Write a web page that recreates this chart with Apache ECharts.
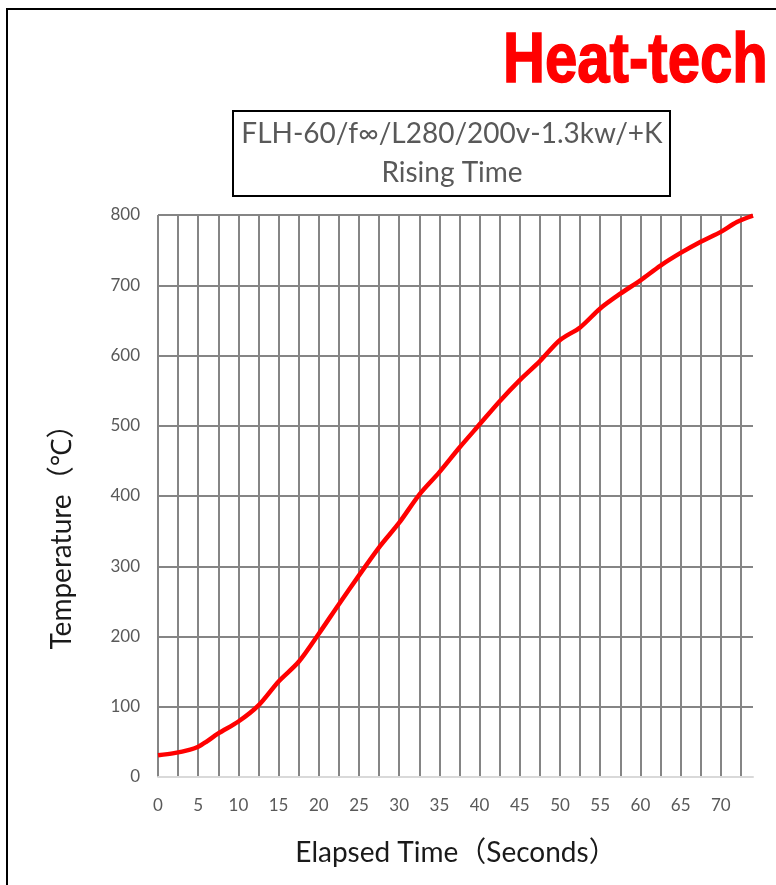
<!DOCTYPE html>
<html>
<head>
<meta charset="utf-8">
<script src="https://cdn.jsdelivr.net/npm/echarts@6/dist/echarts.min.js"></script>
<style>
html,body{margin:0;padding:0;background:#fff;}
#chart{width:776px;height:885px;}
</style>
</head>
<body>
<div id="chart"></div>
<script>
// Data
var timeSec = [0, 2, 4, 5, 6, 7.5, 10, 12.5, 15, 17.5, 20, 22.5, 25, 27.5, 30, 32.5, 35, 37.5, 40, 42.5, 45, 47.5, 50, 52.5, 55, 57.5, 60, 62.5, 65, 67.5, 70, 72, 74];
var tempC   = [31, 34, 39, 43, 50, 62, 79, 102, 136, 164, 204, 246, 287, 327, 362, 402, 434, 469, 502, 535, 565, 592, 622, 640, 667, 688, 707, 728, 746, 762, 776, 790, 799];
var titleLines = ['FLH-60/f\u221e/L280/200v-1.3kw/+K', 'Rising Time'];
var xAxisName = 'Elapsed Time\uff08Seconds\uff09';
var yAxisName = 'Temperature\uff08\u2103\uff09';
var brand = 'Heat-tech';

var seriesData = timeSec.map(function (t, i) { return [t, tempC[i]]; });
var font = 'Lato, "Noto Sans", "Noto Sans CJK JP", sans-serif';

var chart = echarts.init(document.getElementById('chart'), null, {renderer: 'canvas'});
chart.setOption({
  backgroundColor: '#ffffff',
  animation: false,
  grid: {left: 158, right: 23, top: 215, bottom: 108, containLabel: false},
  xAxis: {
    type: 'value', min: 0, max: 74, interval: 2.5,
    axisLine: {show: true, lineStyle: {color: '#d9d9d9', width: 2}},
    axisTick: {show: false},
    axisLabel: {
      color: '#595959', fontSize: 17, fontFamily: font, margin: 20,
      formatter: function (v) { return (Math.abs(v % 5) < 1e-9) ? String(v) : ''; }
    },
    splitLine: {show: true, showMinLine: true, showMaxLine: false, lineStyle: {color: '#858585', width: 2}}
  },
  yAxis: {
    type: 'value', min: 0, max: 800, interval: 100,
    axisLine: {show: false},
    axisTick: {show: false},
    axisLabel: {color: '#595959', fontSize: 17, fontFamily: font, margin: 18},
    splitLine: {show: true, showMinLine: false, showMaxLine: true, lineStyle: {color: '#858585', width: 2}}
  },
  series: [{
    type: 'line',
    data: seriesData,
    showSymbol: false,
    smooth: 0.3,
    lineStyle: {color: '#ff0000', width: 4.5},
    itemStyle: {color: '#ff0000'},
    z: 5
  }],
  graphic: [
    {type: 'rect', shape: {x: 7, y: 9, width: 800, height: 900}, style: {fill: 'none', stroke: '#000', lineWidth: 2}, silent: true},
    {type: 'text', x: 503, y: 63, scaleX: 0.83, style: {text: brand, fill: '#ff0000', stroke: '#ff0000', lineWidth: 1.5, font: 'bold 70px "Liberation Sans", Arial, sans-serif', textVerticalAlign: 'middle', textAlign: 'left'}, silent: true},
    {type: 'rect', shape: {x: 233, y: 111, width: 437, height: 85}, style: {fill: '#fff', stroke: '#000', lineWidth: 2}, silent: true},
    {type: 'text', x: 452, y: 134, style: {text: titleLines[0], fill: '#595959', font: '28px ' + font, textAlign: 'center', textVerticalAlign: 'middle'}, silent: true},
    {type: 'text', x: 452, y: 173, style: {text: titleLines[1], fill: '#595959', font: '28px ' + font, textAlign: 'center', textVerticalAlign: 'middle'}, silent: true},
    {type: 'text', x: 456, y: 853, style: {text: xAxisName, fill: '#1a1a1a', font: '28px ' + font, textAlign: 'center', textVerticalAlign: 'middle'}, silent: true},
    {type: 'text', x: 62, y: 530, rotation: Math.PI / 2, style: {text: yAxisName, fill: '#1a1a1a', font: '28px ' + font, textAlign: 'center', textVerticalAlign: 'middle'}, silent: true}
  ]
});
</script>
</body>
</html>
